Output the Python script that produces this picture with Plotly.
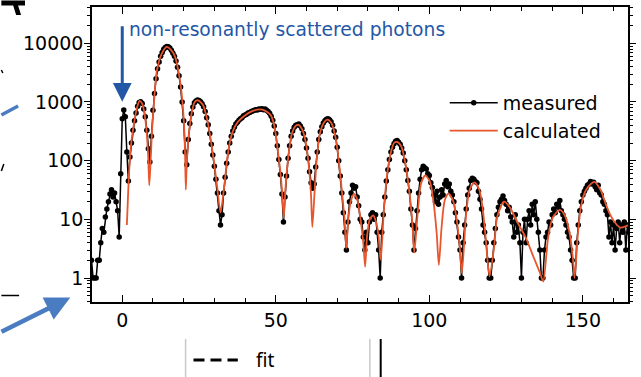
import numpy as np
import plotly.graph_objects as go

# ---------------- data ----------------
# measured time spectrum: channel times (ns) and counts
t_meas = np.arange(-10.0, 165.25, 0.5)
measured = [
    2, 1, 1, 1, 2, 2, 4, 7, 6, 11,
    15, 20, 27, 32, 24, 28, 20, 14, 5, 60,
    520, 730, 560, 140, 45, 115, 200, 330, 480, 650,
    850, 980, 1010, 940, 760, 560, 330, 160, 95, 260,
    720, 1400, 2500, 3700, 4800, 6000, 7000, 7900, 8500, 8800,
    8700, 8300, 7600, 6800, 6000, 5000, 3900, 2800, 1800, 1000,
    480, 140, 85, 230, 430, 630, 820, 970, 1040, 1080,
    1060, 1010, 930, 830, 690, 540, 410, 290, 190, 125,
    80, 48, 28, 14, 8, 12, 28, 52, 90, 140,
    200, 260, 320, 370, 420, 450, 490, 520, 540, 580,
    600, 620, 650, 660, 690, 700, 720, 740, 730, 760,
    750, 770, 740, 760, 720, 690, 640, 570, 490, 390,
    290, 180, 105, 58, 27, 9, 24, 55, 110, 180,
    260, 320, 370, 400, 410, 420, 390, 350, 290, 230,
    165, 110, 65, 42, 34, 40, 78, 140, 230, 310,
    380, 440, 480, 510, 520, 500, 460, 400, 320, 250,
    170, 100, 55, 28, 13, 6, 3, 9, 20, 28,
    38, 34, 36, 24, 17, 10, 9, 5, 3, 6,
    4, 9, 12, 13, 10, 12, 6, 3, 1, 6,
    12, 24, 45, 70, 105, 140, 170, 195, 215, 220,
    205, 190, 165, 135, 100, 70, 46, 30, 15, 8,
    3, 7, 14, 28, 48, 70, 80, 76, 72, 60,
    56, 42, 35, 26, 20, 30, 18, 24, 32, 26,
    40, 46, 36, 40, 30, 26, 20, 13, 9, 5,
    3, 1, 4, 8, 15, 26, 34, 46, 50, 48,
    44, 42, 30, 22, 15, 8, 6, 4, 2, 1,
    1, 2, 4, 7, 12, 16, 20, 22, 25, 21,
    18, 14, 16, 11, 9, 5, 12, 6, 8, 4,
    1, 6, 10, 4, 10, 14, 8, 18, 12, 20,
    10, 6, 3, 1, 1, 3, 5, 6, 9, 8,
    12, 15, 13, 18, 16, 21, 14, 12, 10, 8,
    6, 5, 3, 2, 1, 1, 4, 8, 14, 20,
    26, 30, 34, 38, 40, 44, 40, 43, 36, 32,
    38, 28, 26, 20, 18, 14, 12, 5, 9, 4,
    8, 3, 7, 9, 4, 8, 6, 9, 3, 8,
    6,
]

# calculated spectrum
t_calc = [1.5, 1.7, 2.2, 2.8, 3.85, 4.8, 5.65, 6.4, 7.05, 7.9, 8.45, 8.8,
          9.2, 9.7, 10.2, 11.3, 12.9, 14.5, 16.0, 17.2, 18.8, 19.9, 20.4, 20.7,
          21.0, 21.5, 22.6, 23.6, 24.7, 26.3, 27.9, 29.5, 30.9, 32.0,
          33.2, 34.0, 35.0, 36.0, 37.5, 39.2, 42.5, 45.7, 48.3, 49.5, 50.5, 51.5, 52.1, 52.6,
          53.2, 54.2, 55.3, 56.4, 57.4, 58.7, 59.8, 60.9, 61.5, 61.9,
          62.6, 63.3, 64.4, 65.8, 66.8, 68.1, 69.4, 70.5, 71.6, 72.4, 72.95,
          73.6, 74.4, 75.5, 76.6, 77.6, 78.5, 79.1,
          79.7, 80.6, 81.7, 82.7, 83.5, 84.2,
          85.2, 86.3, 87.4, 88.5, 89.5, 90.9, 92.2, 93.3, 94.4, 95.1,
          96.3, 97.3, 98.7, 100.2, 101.3, 102.4, 103.1,
          104.0, 105.0, 106.2, 107.7, 108.8, 109.9, 110.6,
          112.0, 113.1, 114.7, 116.3, 117.3, 118.4, 119.6,
          121.1, 122.1, 124.3, 126.4, 128.6, 131.3, 133.9, 136.1, 137.1,
          138.7, 140.3, 142.5, 144.1, 145.7, 146.8, 147.3,
          148.4, 149.4, 151.0, 153.7, 155.8, 157.4, 159.0, 160.7, 162.3, 164.4, 165.8]
calculated = [8, 14.5, 60, 174, 437, 794, 1047, 955, 724, 331, 117, 38,
              89, 331, 794, 3470, 6760, 8710, 7590, 5890, 2340, 646, 174, 32,
              89, 224, 646, 1000, 1070, 891, 437, 132, 36, 13,
              36, 89, 200, 316, 447, 550, 708, 741, 603, 398, 174, 63, 27.5, 10.5,
              36, 132, 295, 389, 407, 331, 200, 69, 24.5, 7.4,
              27.5, 102, 295, 457, 501, 437, 257, 102, 27.5, 9.8, 3.2,
              10, 20, 27, 21, 10, 4, 1.55,
              5, 10, 11.7, 8.9, 5, 2.04,
              14.5, 60, 132, 200, 209, 174, 89, 36, 9.8, 2.7,
              14.5, 41, 56, 44, 21, 5.8, 1.66,
              7.4, 21, 27.5, 21, 11, 3.4, 1.2,
              12.6, 31.6, 42.7, 31.6, 16.6, 4.5, 1.07,
              3.4, 11, 20, 15.5, 9.1, 5, 2.3, 1.2, 0.87,
              5, 11, 14.5, 11.7, 5.8, 2.04, 1.0,
              5.8, 16.6, 31.6, 43.6, 31.6, 18.6, 11.7, 8.5, 7.2, 7.8, 8.3]

x_ticks = [0, 50, 100, 150]
y_ticks = [1, 10, 100, 1000, 10000]
y_ticktext = ["1", "10", "100", "1000", "10000"]

# arrow marking the non-resonant peak (time, counts at arrow tip)
arrow_t, arrow_counts = 0, 1010

# ---------------- figure ----------------
W, H = 641, 377
L, R, T, B = 92, 5, 7, 75
PW, PH = W - L - R, H - T - B


def pxx(p):
    return (p - L) / PW


def pxy(p):
    return (H - B - p) / PH


FONT = "DejaVu Sans, Liberation Sans, Arial"
BLUE = "#2357a6"
LBLUE = "#4a7cc1"
RED = "#e8562d"

fig = go.Figure()
fig.add_trace(go.Scatter(
    x=t_meas, y=measured, name="measured", mode="lines+markers",
    line=dict(color="black", width=1.5),
    marker=dict(color="black", size=5.5),
))
fig.add_trace(go.Scatter(
    x=t_calc, y=calculated, name="calculated", mode="lines",
    line=dict(color=RED, width=1.8, shape="spline", smoothing=0.7),
))

fig.update_layout(
    width=W, height=H,
    margin=dict(l=L, r=R, t=T, b=B),
    paper_bgcolor="white", plot_bgcolor="white",
    font=dict(family=FONT, size=19, color="black"),
    showlegend=True,
    legend=dict(x=pxx(450), y=pxy(84), xanchor="left", yanchor="top",
                bgcolor="rgba(0,0,0,0)", font=dict(size=19),
                itemwidth=48, tracegroupgap=0),
)

fig.update_xaxes(
    range=[-9.85, 164.7], showgrid=False, zeroline=False,
    showline=True, linecolor="black", linewidth=1.5, mirror="ticks",
    ticks="inside", ticklen=7, tickwidth=1.3, tickcolor="black",
    tickvals=x_ticks, ticktext=[str(v) for v in x_ticks],
    ticklabelstandoff=0,
    minor=dict(ticks="inside", ticklen=4, tickwidth=1.1, dtick=10, tick0=0,
               tickcolor="black", showgrid=False),
)
fig.update_yaxes(
    type="log", range=[-0.409, 4.619], showgrid=False, zeroline=False,
    showline=True, linecolor="black", linewidth=1.5, mirror="ticks",
    ticks="outside", ticklen=6, tickwidth=1.3, tickcolor="black",
    tickvals=y_ticks, ticktext=y_ticktext, ticklabelstandoff=-3,
    minor=dict(ticks="outside", ticklen=3.5, tickwidth=1, dtick="D1",
               tickcolor="black", showgrid=False),
)

# annotation arrow + label (log axis -> annotation y in log10 units)
fig.add_annotation(x=arrow_t, y=np.log10(arrow_counts), xref="x", yref="y",
                   text="", showarrow=True,
                   axref="pixel", ayref="pixel", ax=0, ay=-77,
                   arrowhead=2, arrowsize=1.25, arrowwidth=3, arrowcolor=BLUE,
                   standoff=0)
fig.add_annotation(x=pxx(128), y=pxy(29.5), xref="paper", yref="paper",
                   text="non-resonantly scattered photons", showarrow=False,
                   xanchor="left", yanchor="middle",
                   font=dict(family=FONT, size=18.7, color=BLUE))

# ---- fragments of neighbouring panels visible in the crop ----
shapes = []
shapes.append(dict(type="line", xref="paper", yref="paper",
                   x0=pxx(0), y0=pxy(115), x1=pxx(17), y1=pxy(106),
                   line=dict(color=LBLUE, width=3.5)))
shapes.append(dict(type="line", xref="paper", yref="paper",
                   x0=pxx(0), y0=pxy(295.5), x1=pxx(18), y1=pxy(295.5),
                   line=dict(color="black", width=1.5)))
shapes.append(dict(type="line", xref="paper", yref="paper",
                   x0=pxx(0), y0=pxy(70), x1=pxx(1.5), y1=pxy(73),
                   line=dict(color="black", width=1.5)))
shapes.append(dict(type="line", xref="paper", yref="paper",
                   x0=pxx(0), y0=pxy(171), x1=pxx(2.5), y1=pxy(164),
                   line=dict(color="black", width=1.5)))
shapes.append(dict(type="path", xref="paper", yref="paper",
                   path="M {a},{b} L {c},{b} L {c},{d} L {e},{d} L {f},{g} L {h},{g} L {i},{d} L {a},{d} Z".format(
                       a=pxx(0), b=pxy(0.5), c=pxx(24), d=pxy(5.5),
                       e=pxx(17), f=pxx(20), g=pxy(15), h=pxx(15), i=pxx(12)),
                   fillcolor="black", line=dict(width=0)))
# bottom legend fragment
shapes.append(dict(type="line", xref="paper", yref="paper",
                   x0=pxx(187), y0=pxy(339), x1=pxx(187), y1=pxy(378),
                   line=dict(color="#c8c8c8", width=1.5)))
shapes.append(dict(type="line", xref="paper", yref="paper",
                   x0=pxx(374), y0=pxy(339), x1=pxx(374), y1=pxy(378),
                   line=dict(color="#c8c8c8", width=1.5)))
shapes.append(dict(type="line", xref="paper", yref="paper",
                   x0=pxx(385), y0=pxy(339), x1=pxx(385), y1=pxy(378),
                   line=dict(color="black", width=2)))
shapes.append(dict(type="line", xref="paper", yref="paper",
                   x0=pxx(195), y0=pxy(360), x1=pxx(240), y1=pxy(360),
                   line=dict(color="black", width=3, dash="11px,6px")))
fig.update_layout(shapes=shapes)

fig.add_annotation(x=pxx(256), y=pxy(360), xref="paper", yref="paper",
                   text="fit", showarrow=False, xanchor="left", yanchor="middle",
                   font=dict(family="Noto Sans, Open Sans", size=19, color="black"))
# big blue arrow at the lower left
fig.add_annotation(x=pxx(70), y=pxy(297.5), xref="paper", yref="paper",
                   text="", showarrow=True, axref="pixel", ayref="pixel",
                   ax=-72, ay=35, arrowhead=2, arrowsize=1.1, arrowwidth=4.5,
                   arrowcolor=LBLUE, standoff=0)

fig.write_html("out.html")
